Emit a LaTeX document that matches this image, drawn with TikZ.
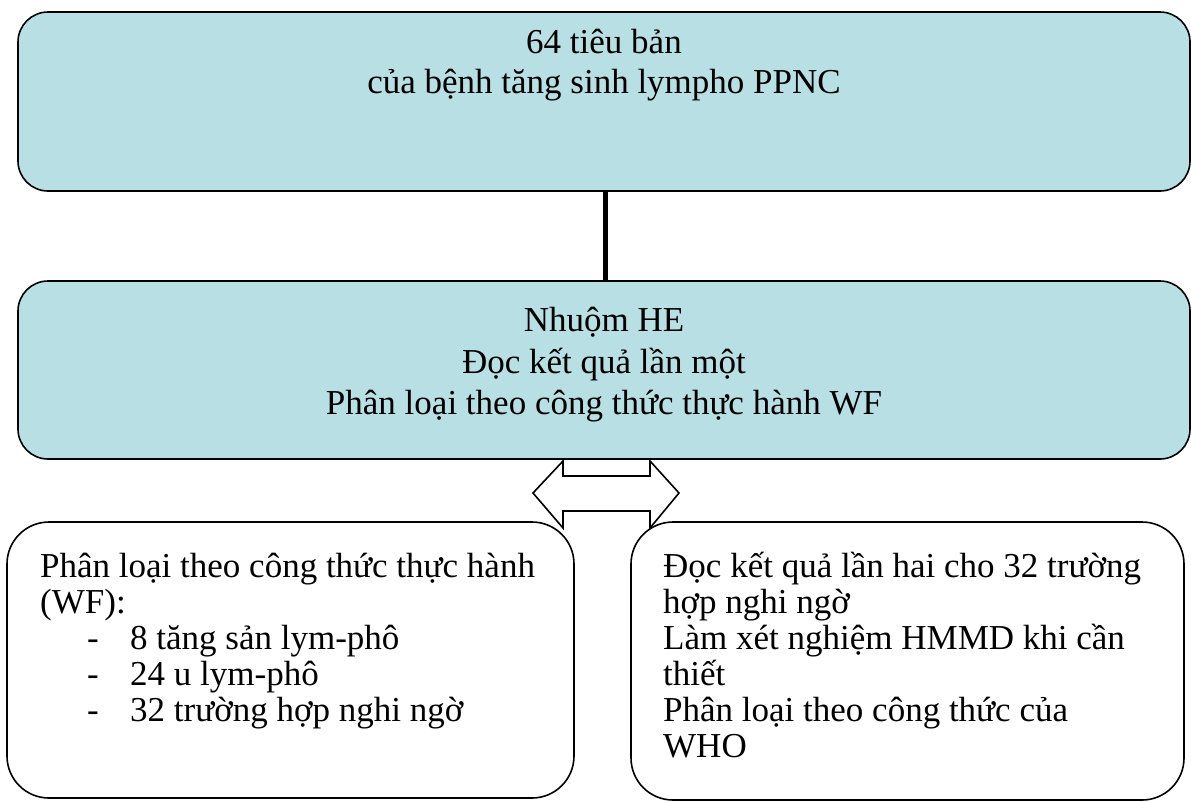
\documentclass[tikz,border=0pt]{standalone}
\usepackage{fontspec}
\setmainfont{Liberation Serif}
\definecolor{boxteal}{RGB}{184,223,227}
\begin{document}
\begin{tikzpicture}[x=1pt,y=-1pt,
  topbox/.style={draw=black,line width=1.6pt,fill=boxteal,rounded corners=30pt},
  lowbox/.style={draw=black,line width=1.6pt,fill=white,rounded corners=42pt},
  txt/.style={inner sep=0pt,font=\fontsize{35}{36}\selectfont},
  ctr/.style={txt,anchor=base},
  lft/.style={txt,anchor=base west}]
\useasboundingbox (0,0) rectangle (1191,801);
% boxes
\path[topbox] (18,12) rectangle (1190,191);
\node[inner sep=0pt,minimum width=1172pt,minimum height=179pt] (top) at (604,101.5) {};
\path[topbox] (18,281) rectangle (1190,459);
\node[inner sep=0pt,minimum width=1172pt,minimum height=178pt] (mid) at (604,370) {};
\path[lowbox] (7,522) rectangle (574,798);
\node[inner sep=0pt,minimum width=567pt,minimum height=276pt] (left) at (290.5,660) {};
\path[lowbox] (631,522) rectangle (1184,800);
\node[inner sep=0pt,minimum width=553pt,minimum height=278pt] (right) at (907.5,661) {};
% connector
\draw[line width=5pt] (605,191) -- (605,281);
% double arrow
\coordinate (al) at (533,493);
\coordinate (ar) at (679,493);
\draw[line width=1.6pt,fill=white,line join=miter]
  (al) -- (563,461) -- (563,476) -- (650,476) -- (650,461) -- (ar)
  -- (650,528) -- (650,511) -- (563,511) -- (563,528) -- cycle;
% texts
\node[ctr] (t1) at (604,53) {64 tiêu bản};
\node[ctr] (t2) at (604,93) {của bệnh tăng sinh lympho PPNC};
\node[ctr] (m1) at (604,331) {Nhuộm HE};
\node[ctr] (m2) at (604,373) {Đọc kết quả lần một};
\node[ctr] (m3) at (604,414) {Phân loại theo công thức thực hành WF};
\node[lft] (l1) at (40,577) {Phân loại theo công thức thực hành};
\node[lft] (l2) at (40,613) {(WF):};
\node[lft] (l3d) at (87,649) {-};
\node[lft] (l3) at (130,649) {8 tăng sản lym-phô};
\node[lft] (l4d) at (87,685) {-};
\node[lft] (l4) at (130,685) {24 u lym-phô};
\node[lft] (l5d) at (87,721) {-};
\node[lft] (l5) at (130,721) {32 trường hợp nghi ngờ};
\node[lft] (r1) at (663,577) {Đọc kết quả lần hai cho 32 trường};
\node[lft] (r2) at (663,613) {hợp nghi ngờ};
\node[lft] (r3) at (663,649) {Làm xét nghiệm HMMD khi cần};
\node[lft] (r4) at (663,685) {thiết};
\node[lft] (r5) at (663,721) {Phân loại theo công thức của};
\node[lft] (r6) at (663,757) {WHO};
\end{tikzpicture}
\end{document}
